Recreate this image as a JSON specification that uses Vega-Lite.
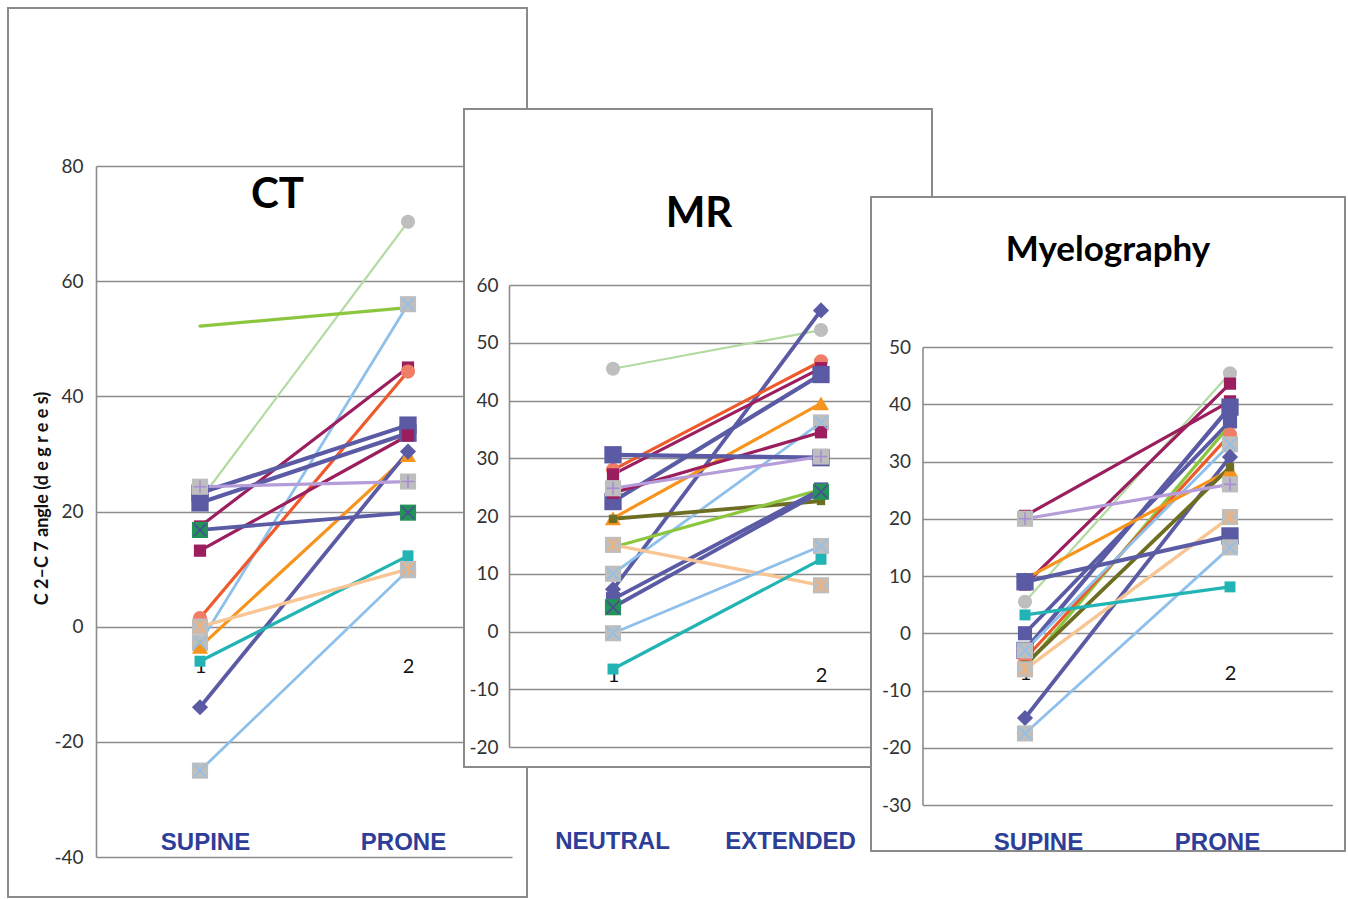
{
  "$schema": "https://vega.github.io/schema/vega-lite/v6.json",
  "background": "white",
  "padding": {"left": 7, "top": 7, "right": 0, "bottom": 0},
  "config": {"view": {"stroke": null}, "legend": {"disable": true}},
  "columns": 3,
  "align": "none",
  "spacing": -65,
  "concat": [
    {
      "width": 519,
      "height": 889,
      "view": {"fill": "white", "stroke": "#8a8a8a", "strokeWidth": 2},
      "title": {"text": "CT", "font": "Liberation Sans Narrow, Lato, sans-serif", "fontSize": 42, "fontWeight": "bold", "color": "#000000", "anchor": "middle", "frame": "group", "offset": -242, "dx": 10, "baseline": "alphabetic"},
      "data": {"values": [
        {"series": "lgreen", "position": 1, "angle": 22}, {"series": "lgreen", "position": 2, "angle": 70.3},
        {"series": "ygreen", "position": 1, "angle": 52.2}, {"series": "ygreen", "position": 2, "angle": 55.4},
        {"series": "lblueA", "position": 1, "angle": -2.8}, {"series": "lblueA", "position": 2, "angle": 56},
        {"series": "magA", "position": 1, "angle": 17.4}, {"series": "magA", "position": 2, "angle": 45},
        {"series": "ored", "position": 1, "angle": 1.5}, {"series": "ored", "position": 2, "angle": 44.3},
        {"series": "slateA", "position": 1, "angle": 23.2}, {"series": "slateA", "position": 2, "angle": 35},
        {"series": "slateB", "position": 1, "angle": 21.5}, {"series": "slateB", "position": 2, "angle": 33.6},
        {"series": "magB", "position": 1, "angle": 13.2}, {"series": "magB", "position": 2, "angle": 33.2},
        {"series": "orange", "position": 1, "angle": -3.5}, {"series": "orange", "position": 2, "angle": 29.8},
        {"series": "slateDia", "position": 1, "angle": -14}, {"series": "slateDia", "position": 2, "angle": 30.4},
        {"series": "slateG", "position": 1, "angle": 16.8}, {"series": "slateG", "position": 2, "angle": 19.8},
        {"series": "lpurple", "position": 1, "angle": 24.3}, {"series": "lpurple", "position": 2, "angle": 25.2},
        {"series": "teal", "position": 1, "angle": -6}, {"series": "teal", "position": 2, "angle": 12.3},
        {"series": "peach", "position": 1, "angle": 0}, {"series": "peach", "position": 2, "angle": 10},
        {"series": "lblueB", "position": 1, "angle": -25}, {"series": "lblueB", "position": 2, "angle": 9.8}
      ]},
      "encoding": {
        "y": {"field": "angle", "type": "quantitative",
          "scale": {"domain": [-40, 80], "range": [849, 158], "nice": false, "zero": false},
          "axis": {"values": [-40, -20, 0, 20, 40, 60, 80], "labelExpr": "'' + datum.value", "offset": -88, "grid": true, "gridColor": "#8c8c8c", "gridWidth": 1.6, "domain": true, "domainColor": "#8c8c8c", "domainWidth": 1.6, "ticks": false, "labelPadding": 13, "labelFont": "Liberation Sans Narrow, Lato, sans-serif", "labelFontSize": 19, "labelColor": "#333333",
            "title": "C 2–C 7 angle (d e g r e e s)", "titleFont": "Liberation Sans Narrow, Lato, sans-serif", "titleFontSize": 18, "titleFontWeight": "bold", "titleColor": "#111111", "titleAngle": 270, "titleX": -54, "titleY": 490, "titleAlign": "center", "titleBaseline": "middle"}}
      },
      "layer": [
        {"mark": {"type": "line", "strokeCap": "round", "strokeJoin": "round"},
          "encoding": {
            "x": {"field": "position", "type": "quantitative", "scale": {"domain": [0.5, 2.5], "range": [88, 504], "nice": false, "zero": false},
              "axis": {"orient": "bottom", "offset": -67, "values": [1, 2], "labelExpr": "datum.value == 1 ? 'SUPINE' : 'PRONE'", "grid": false, "domain": false, "ticks": false, "labelPadding": 0, "labelFont": "Liberation Sans, Arial, sans-serif", "labelFontSize": 24, "labelFontWeight": "bold", "labelColor": "#2D3E99", "labelOffset": {"condition": {"test": "datum.value == 1", "value": 5}, "value": -5}, "labelFlush": false, "labelOverlap": false, "title": null}},
            "color": {"field": "series", "type": "nominal", "legend": null, "scale": {"domain": ["lgreen","ygreen","lblueA","lblueB","magA","magB","ored","slateA","slateB","slateC","slateDia","slateG","orange","lpurple","teal","peach","olive"], "range": ["#B3DBA1","#8CC63F","#8EC0EB","#8EC0EB","#9B1F5E","#9B1F5E","#EE5A2C","#5A5BA4","#5A5BA4","#5A5BA4","#5A5BA4","#5A5BA4","#F7941E","#B59DD9","#22B4B4","#F8C594","#6E6E22"]}},
            "strokeWidth": {"field": "series", "type": "nominal", "legend": null, "scale": {"type": "ordinal", "domain": ["lgreen","ygreen","lblueA","lblueB","magA","magB","ored","slateA","slateB","slateC","slateDia","slateG","orange","lpurple","teal","peach","olive"], "range": [2.2, 3.2, 2.8, 2.8, 3.2, 3.2, 3.2, 4.2, 4.2, 3.8, 3.8, 3.8, 3.2, 3.2, 3.2, 3.4, 3.8]}}
          }},
        {"transform": [{"filter": {"not": {"field": "series", "equal": "ygreen"}}}],
          "mark": {"type": "point", "filled": true, "opacity": 1},
          "encoding": {
            "x": {"field": "position", "type": "quantitative", "scale": {"domain": [0.5, 2.5], "range": [88, 504], "nice": false, "zero": false},
              "axis": {"orient": "bottom", "offset": -241, "values": [1, 2], "format": "d", "grid": false, "domain": false, "ticks": false, "labelPadding": 0, "labelFont": "Liberation Sans Narrow, Lato, sans-serif", "labelFontSize": 20, "labelColor": "#111111", "labelFlush": false, "labelOverlap": false, "title": null}},
            "shape": {"field": "series", "type": "nominal", "legend": null, "scale": {"domain": ["lgreen","lblueA","lblueB","magA","magB","ored","slateA","slateB","slateC","slateDia","slateG","orange","lpurple","teal","peach","olive"], "range": ["circle","square","square","square","square","circle","square","square","square","diamond","square","triangle-up","square","square","square","square"]}},
            "fill": {"field": "series", "type": "nominal", "legend": null, "scale": {"domain": ["lgreen","lblueA","lblueB","magA","magB","ored","slateA","slateB","slateC","slateDia","slateG","orange","lpurple","teal","peach","olive"], "range": ["#BEBEBE","#BEBEBE","#BEBEBE","#9B1F5E","#9B1F5E","#F07D66","#5A5BA4","#5A5BA4","#5A5BA4","#5A5BA4","#23935A","#F7941E","#BEBEBE","#22B4B4","#BEBEBE","#6E6E22"]}},
            "size": {"field": "series", "type": "nominal", "legend": null, "scale": {"type": "ordinal", "domain": ["lgreen","lblueA","lblueB","magA","magB","ored","slateA","slateB","slateC","slateDia","slateG","orange","lpurple","teal","peach","olive"], "range": [200, 260, 260, 150, 150, 200, 300, 300, 200, 260, 260, 260, 260, 120, 260, 70]}}
          }},
        {"transform": [{"filter": {"field": "series", "oneOf": ["lblueA", "lblueB", "slateG"]}}],
          "mark": {"type": "point", "shape": "M-1,-1L1,1M-1,1L1,-1", "filled": false, "size": 160, "strokeWidth": 1.6, "opacity": 1},
          "encoding": {
            "x": {"field": "position", "type": "quantitative", "scale": {"domain": [0.5, 2.5], "range": [88, 504], "nice": false, "zero": false}, "axis": null},
            "stroke": {"field": "series", "type": "nominal", "legend": null, "scale": {"domain": ["lblueA","lblueB","slateG","peach","lpurple"], "range": ["#8EC0EB","#8EC0EB","#4B4C96","#F2B27A","#A98BD6"]}}
          }},
        {"transform": [{"filter": {"field": "series", "equal": "peach"}}],
          "mark": {"type": "point", "shape": "M-1,-1L1,1M-1,1L1,-1M0,-1L0,1", "filled": false, "size": 160, "strokeWidth": 1.6, "opacity": 1},
          "encoding": {
            "x": {"field": "position", "type": "quantitative", "scale": {"domain": [0.5, 2.5], "range": [88, 504], "nice": false, "zero": false}, "axis": null},
            "stroke": {"field": "series", "type": "nominal", "legend": null, "scale": {"domain": ["lblueA","lblueB","slateG","peach","lpurple"], "range": ["#8EC0EB","#8EC0EB","#4B4C96","#F2B27A","#A98BD6"]}}
          }},
        {"transform": [{"filter": {"field": "series", "equal": "lpurple"}}],
          "mark": {"type": "point", "shape": "M-1,0L1,0M0,-1L0,1", "filled": false, "size": 160, "strokeWidth": 1.6, "opacity": 1},
          "encoding": {
            "x": {"field": "position", "type": "quantitative", "scale": {"domain": [0.5, 2.5], "range": [88, 504], "nice": false, "zero": false}, "axis": null},
            "stroke": {"field": "series", "type": "nominal", "legend": null, "scale": {"domain": ["lblueA","lblueB","slateG","peach","lpurple"], "range": ["#8EC0EB","#8EC0EB","#4B4C96","#F2B27A","#A98BD6"]}}
          }}
      ],
      "resolve": {"axis": {"x": "independent"}}
    },
    {
      "spacing": 0,
      "vconcat": [
        {"width": 471, "height": 100, "data": {"values": []}, "mark": "point"},
        {
          "width": 468,
          "height": 658,
          "view": {"fill": "white", "stroke": "#8a8a8a", "strokeWidth": 2},
          "title": {"text": "MR", "font": "Liberation Sans Narrow, Lato, sans-serif", "fontSize": 42, "fontWeight": "bold", "color": "#000000", "anchor": "middle", "frame": "group", "offset": -160, "dx": 1, "baseline": "alphabetic"},
          "data": {"values": [
            {"series": "lgreen", "position": 1, "angle": 45.5}, {"series": "lgreen", "position": 2, "angle": 52.2},
            {"series": "slateDia", "position": 1, "angle": 7.3}, {"series": "slateDia", "position": 2, "angle": 55.6},
            {"series": "ored", "position": 1, "angle": 28}, {"series": "ored", "position": 2, "angle": 46.8},
            {"series": "magA", "position": 1, "angle": 27.2}, {"series": "magA", "position": 2, "angle": 45.6},
            {"series": "slateA", "position": 1, "angle": 22.5}, {"series": "slateA", "position": 2, "angle": 44.5},
            {"series": "orange", "position": 1, "angle": 19.6}, {"series": "orange", "position": 2, "angle": 39.5},
            {"series": "lblueA", "position": 1, "angle": 10}, {"series": "lblueA", "position": 2, "angle": 36.2},
            {"series": "magB", "position": 1, "angle": 24}, {"series": "magB", "position": 2, "angle": 34.5},
            {"series": "slateB", "position": 1, "angle": 30.6}, {"series": "slateB", "position": 2, "angle": 30.1},
            {"series": "lpurple", "position": 1, "angle": 24.8}, {"series": "lpurple", "position": 2, "angle": 30.3},
            {"series": "olive", "position": 1, "angle": 19.5}, {"series": "olive", "position": 2, "angle": 22.6},
            {"series": "ygreen", "position": 1, "angle": 14.6}, {"series": "ygreen", "position": 2, "angle": 24.6},
            {"series": "slateC", "position": 1, "angle": 5.6}, {"series": "slateC", "position": 2, "angle": 24.6},
            {"series": "slateG", "position": 1, "angle": 4.2}, {"series": "slateG", "position": 2, "angle": 24.2},
            {"series": "peach", "position": 1, "angle": 15}, {"series": "peach", "position": 2, "angle": 8},
            {"series": "lblueB", "position": 1, "angle": -0.3}, {"series": "lblueB", "position": 2, "angle": 14.8},
            {"series": "teal", "position": 1, "angle": -6.5}, {"series": "teal", "position": 2, "angle": 12.5}
          ]},
          "encoding": {
            "y": {"field": "angle", "type": "quantitative",
              "scale": {"domain": [-20, 60], "range": [638, 176], "nice": false, "zero": false},
              "axis": {"values": [-20, -10, 0, 10, 20, 30, 40, 50, 60], "labelExpr": "'' + datum.value", "offset": -45, "grid": true, "gridColor": "#8c8c8c", "gridWidth": 1.6, "domain": true, "domainColor": "#8c8c8c", "domainWidth": 1.6, "ticks": false, "labelPadding": 11, "labelFont": "Liberation Sans Narrow, Lato, sans-serif", "labelFontSize": 19, "labelColor": "#333333", "title": null}}
          },
          "layer": [
            {"mark": {"type": "line", "strokeCap": "round", "strokeJoin": "round"},
              "encoding": {
                "x": {"field": "position", "type": "quantitative", "scale": {"domain": [0.5, 2.5], "range": [45, 461], "nice": false, "zero": false},
                  "axis": {"orient": "bottom", "offset": 62, "values": [1, 2], "labelExpr": "datum.value == 1 ? 'NEUTRAL' : 'EXTENDED'", "grid": false, "domain": false, "ticks": false, "labelPadding": 0, "labelFont": "Liberation Sans, Arial, sans-serif", "labelFontSize": 24, "labelFontWeight": "bold", "labelColor": "#2D3E99", "labelOffset": {"condition": {"test": "datum.value == 1", "value": -1}, "value": -31}, "labelFlush": false, "labelOverlap": false, "title": null}},
                "color": {"field": "series", "type": "nominal", "legend": null, "scale": {"domain": ["lgreen","ygreen","lblueA","lblueB","magA","magB","ored","slateA","slateB","slateC","slateDia","slateG","orange","lpurple","teal","peach","olive"], "range": ["#B3DBA1","#8CC63F","#8EC0EB","#8EC0EB","#9B1F5E","#9B1F5E","#EE5A2C","#5A5BA4","#5A5BA4","#5A5BA4","#5A5BA4","#5A5BA4","#F7941E","#B59DD9","#22B4B4","#F8C594","#6E6E22"]}},
                "strokeWidth": {"field": "series", "type": "nominal", "legend": null, "scale": {"type": "ordinal", "domain": ["lgreen","ygreen","lblueA","lblueB","magA","magB","ored","slateA","slateB","slateC","slateDia","slateG","orange","lpurple","teal","peach","olive"], "range": [2.2, 3.2, 2.8, 2.8, 3.2, 3.2, 3.2, 4.2, 4.2, 3.8, 3.8, 3.8, 3.2, 3.2, 3.2, 3.4, 3.8]}}
              }},
            {"transform": [{"filter": {"not": {"field": "series", "equal": "ygreen"}}}],
              "mark": {"type": "point", "filled": true, "opacity": 1},
              "encoding": {
                "x": {"field": "position", "type": "quantitative", "scale": {"domain": [0.5, 2.5], "range": [45, 461], "nice": false, "zero": false},
                  "axis": {"orient": "bottom", "offset": -102, "values": [1, 2], "format": "d", "grid": false, "domain": false, "ticks": false, "labelPadding": 0, "labelFont": "Liberation Sans Narrow, Lato, sans-serif", "labelFontSize": 20, "labelColor": "#111111", "labelFlush": false, "labelOverlap": false, "title": null}},
                "shape": {"field": "series", "type": "nominal", "legend": null, "scale": {"domain": ["lgreen","lblueA","lblueB","magA","magB","ored","slateA","slateB","slateC","slateDia","slateG","orange","lpurple","teal","peach","olive"], "range": ["circle","square","square","square","square","circle","square","square","square","diamond","square","triangle-up","square","square","square","square"]}},
                "fill": {"field": "series", "type": "nominal", "legend": null, "scale": {"domain": ["lgreen","lblueA","lblueB","magA","magB","ored","slateA","slateB","slateC","slateDia","slateG","orange","lpurple","teal","peach","olive"], "range": ["#BEBEBE","#BEBEBE","#BEBEBE","#9B1F5E","#9B1F5E","#F07D66","#5A5BA4","#5A5BA4","#5A5BA4","#5A5BA4","#23935A","#F7941E","#BEBEBE","#22B4B4","#BEBEBE","#6E6E22"]}},
                "size": {"field": "series", "type": "nominal", "legend": null, "scale": {"type": "ordinal", "domain": ["lgreen","lblueA","lblueB","magA","magB","ored","slateA","slateB","slateC","slateDia","slateG","orange","lpurple","teal","peach","olive"], "range": [200, 260, 260, 150, 150, 200, 300, 300, 200, 260, 260, 260, 260, 120, 260, 70]}}
              }},
            {"transform": [{"filter": {"field": "series", "oneOf": ["lblueA", "lblueB", "slateG"]}}],
              "mark": {"type": "point", "shape": "M-1,-1L1,1M-1,1L1,-1", "filled": false, "size": 160, "strokeWidth": 1.6, "opacity": 1},
              "encoding": {
                "x": {"field": "position", "type": "quantitative", "scale": {"domain": [0.5, 2.5], "range": [45, 461], "nice": false, "zero": false}, "axis": null},
                "stroke": {"field": "series", "type": "nominal", "legend": null, "scale": {"domain": ["lblueA","lblueB","slateG","peach","lpurple"], "range": ["#8EC0EB","#8EC0EB","#4B4C96","#F2B27A","#A98BD6"]}}
              }},
            {"transform": [{"filter": {"field": "series", "equal": "peach"}}],
              "mark": {"type": "point", "shape": "M-1,-1L1,1M-1,1L1,-1M0,-1L0,1", "filled": false, "size": 160, "strokeWidth": 1.6, "opacity": 1},
              "encoding": {
                "x": {"field": "position", "type": "quantitative", "scale": {"domain": [0.5, 2.5], "range": [45, 461], "nice": false, "zero": false}, "axis": null},
                "stroke": {"field": "series", "type": "nominal", "legend": null, "scale": {"domain": ["lblueA","lblueB","slateG","peach","lpurple"], "range": ["#8EC0EB","#8EC0EB","#4B4C96","#F2B27A","#A98BD6"]}}
              }},
            {"transform": [{"filter": {"field": "series", "equal": "lpurple"}}],
              "mark": {"type": "point", "shape": "M-1,0L1,0M0,-1L0,1", "filled": false, "size": 160, "strokeWidth": 1.6, "opacity": 1},
              "encoding": {
                "x": {"field": "position", "type": "quantitative", "scale": {"domain": [0.5, 2.5], "range": [45, 461], "nice": false, "zero": false}, "axis": null},
                "stroke": {"field": "series", "type": "nominal", "legend": null, "scale": {"domain": ["lblueA","lblueB","slateG","peach","lpurple"], "range": ["#8EC0EB","#8EC0EB","#4B4C96","#F2B27A","#A98BD6"]}}
              }}
          ],
          "resolve": {"axis": {"x": "independent"}}
        }
      ]
    },
    {
      "spacing": 0,
      "vconcat": [
        {"width": 474, "height": 188, "data": {"values": []}, "mark": "point"},
        {
          "width": 474,
          "height": 654,
          "view": {"fill": "white", "stroke": "#8a8a8a", "strokeWidth": 2},
          "title": {"text": "Myelography", "font": "Liberation Sans Narrow, Lato, sans-serif", "fontSize": 35, "fontWeight": "bold", "color": "#000000", "anchor": "middle", "frame": "group", "offset": -99, "dx": 0, "baseline": "alphabetic"},
          "data": {"values": [
            {"series": "lgreen", "position": 1, "angle": 5.5}, {"series": "lgreen", "position": 2, "angle": 45.4},
            {"series": "magB", "position": 1, "angle": 8.5}, {"series": "magB", "position": 2, "angle": 43.6},
            {"series": "magA", "position": 1, "angle": 20.5}, {"series": "magA", "position": 2, "angle": 40.5},
            {"series": "slateA", "position": 1, "angle": -3}, {"series": "slateA", "position": 2, "angle": 39.5},
            {"series": "slateC", "position": 1, "angle": 0}, {"series": "slateC", "position": 2, "angle": 37},
            {"series": "ygreen", "position": 1, "angle": -6}, {"series": "ygreen", "position": 2, "angle": 36.4},
            {"series": "ored", "position": 1, "angle": -4.5}, {"series": "ored", "position": 2, "angle": 34.7},
            {"series": "lblueA", "position": 1, "angle": -3}, {"series": "lblueA", "position": 2, "angle": 33},
            {"series": "slateDia", "position": 1, "angle": -14.8}, {"series": "slateDia", "position": 2, "angle": 30.8},
            {"series": "orange", "position": 1, "angle": 9.5}, {"series": "orange", "position": 2, "angle": 28.5},
            {"series": "olive", "position": 1, "angle": -5.5}, {"series": "olive", "position": 2, "angle": 29},
            {"series": "lpurple", "position": 1, "angle": 20}, {"series": "lpurple", "position": 2, "angle": 26},
            {"series": "peach", "position": 1, "angle": -6.3}, {"series": "peach", "position": 2, "angle": 20.3},
            {"series": "slateB", "position": 1, "angle": 9}, {"series": "slateB", "position": 2, "angle": 17},
            {"series": "lblueB", "position": 1, "angle": -17.5}, {"series": "lblueB", "position": 2, "angle": 15},
            {"series": "teal", "position": 1, "angle": 3.2}, {"series": "teal", "position": 2, "angle": 8.1}
          ]},
          "encoding": {
            "y": {"field": "angle", "type": "quantitative",
              "scale": {"domain": [-30, 50], "range": [608, 150], "nice": false, "zero": false},
              "axis": {"values": [-30, -20, -10, 0, 10, 20, 30, 40, 50], "labelExpr": "'' + datum.value", "offset": -51.5, "grid": true, "gridColor": "#8c8c8c", "gridWidth": 1.6, "domain": true, "domainColor": "#8c8c8c", "domainWidth": 1.6, "ticks": false, "labelPadding": 12, "labelFont": "Liberation Sans Narrow, Lato, sans-serif", "labelFontSize": 19, "labelColor": "#333333", "title": null}}
          },
          "layer": [
            {"mark": {"type": "line", "strokeCap": "round", "strokeJoin": "round"},
              "encoding": {
                "x": {"field": "position", "type": "quantitative", "scale": {"domain": [0.5, 2.5], "range": [51.5, 461.5], "nice": false, "zero": false},
                  "axis": {"orient": "bottom", "offset": -21, "values": [1, 2], "labelExpr": "datum.value == 1 ? 'SUPINE' : 'PRONE'", "grid": false, "domain": false, "ticks": false, "labelPadding": 0, "labelFont": "Liberation Sans, Arial, sans-serif", "labelFontSize": 24, "labelFontWeight": "bold", "labelColor": "#2D3E99", "labelOffset": {"condition": {"test": "datum.value == 1", "value": 13}, "value": -13}, "labelFlush": false, "labelOverlap": false, "title": null}},
                "color": {"field": "series", "type": "nominal", "legend": null, "scale": {"domain": ["lgreen","ygreen","lblueA","lblueB","magA","magB","ored","slateA","slateB","slateC","slateDia","slateG","orange","lpurple","teal","peach","olive"], "range": ["#B3DBA1","#8CC63F","#8EC0EB","#8EC0EB","#9B1F5E","#9B1F5E","#EE5A2C","#5A5BA4","#5A5BA4","#5A5BA4","#5A5BA4","#5A5BA4","#F7941E","#B59DD9","#22B4B4","#F8C594","#6E6E22"]}},
                "strokeWidth": {"field": "series", "type": "nominal", "legend": null, "scale": {"type": "ordinal", "domain": ["lgreen","ygreen","lblueA","lblueB","magA","magB","ored","slateA","slateB","slateC","slateDia","slateG","orange","lpurple","teal","peach","olive"], "range": [2.2, 3.2, 2.8, 2.8, 3.2, 3.2, 3.2, 4.2, 4.2, 3.8, 3.8, 3.8, 3.2, 3.2, 3.2, 3.4, 3.8]}}
              }},
            {"transform": [{"filter": {"not": {"field": "series", "equal": "ygreen"}}}],
              "mark": {"type": "point", "filled": true, "opacity": 1},
              "encoding": {
                "x": {"field": "position", "type": "quantitative", "scale": {"domain": [0.5, 2.5], "range": [51.5, 461.5], "nice": false, "zero": false},
                  "axis": {"orient": "bottom", "offset": -188, "values": [1, 2], "format": "d", "grid": false, "domain": false, "ticks": false, "labelPadding": 0, "labelFont": "Liberation Sans Narrow, Lato, sans-serif", "labelFontSize": 20, "labelColor": "#111111", "labelFlush": false, "labelOverlap": false, "title": null}},
                "shape": {"field": "series", "type": "nominal", "legend": null, "scale": {"domain": ["lgreen","lblueA","lblueB","magA","magB","ored","slateA","slateB","slateC","slateDia","slateG","orange","lpurple","teal","peach","olive"], "range": ["circle","square","square","square","square","circle","square","square","square","diamond","square","triangle-up","square","square","square","square"]}},
                "fill": {"field": "series", "type": "nominal", "legend": null, "scale": {"domain": ["lgreen","lblueA","lblueB","magA","magB","ored","slateA","slateB","slateC","slateDia","slateG","orange","lpurple","teal","peach","olive"], "range": ["#BEBEBE","#BEBEBE","#BEBEBE","#9B1F5E","#9B1F5E","#F07D66","#5A5BA4","#5A5BA4","#5A5BA4","#5A5BA4","#23935A","#F7941E","#BEBEBE","#22B4B4","#BEBEBE","#6E6E22"]}},
                "size": {"field": "series", "type": "nominal", "legend": null, "scale": {"type": "ordinal", "domain": ["lgreen","lblueA","lblueB","magA","magB","ored","slateA","slateB","slateC","slateDia","slateG","orange","lpurple","teal","peach","olive"], "range": [200, 260, 260, 150, 150, 200, 300, 300, 200, 260, 260, 260, 260, 120, 260, 70]}}
              }},
            {"transform": [{"filter": {"field": "series", "oneOf": ["lblueA", "lblueB", "slateG"]}}],
              "mark": {"type": "point", "shape": "M-1,-1L1,1M-1,1L1,-1", "filled": false, "size": 160, "strokeWidth": 1.6, "opacity": 1},
              "encoding": {
                "x": {"field": "position", "type": "quantitative", "scale": {"domain": [0.5, 2.5], "range": [51.5, 461.5], "nice": false, "zero": false}, "axis": null},
                "stroke": {"field": "series", "type": "nominal", "legend": null, "scale": {"domain": ["lblueA","lblueB","slateG","peach","lpurple"], "range": ["#8EC0EB","#8EC0EB","#4B4C96","#F2B27A","#A98BD6"]}}
              }},
            {"transform": [{"filter": {"field": "series", "equal": "peach"}}],
              "mark": {"type": "point", "shape": "M-1,-1L1,1M-1,1L1,-1M0,-1L0,1", "filled": false, "size": 160, "strokeWidth": 1.6, "opacity": 1},
              "encoding": {
                "x": {"field": "position", "type": "quantitative", "scale": {"domain": [0.5, 2.5], "range": [51.5, 461.5], "nice": false, "zero": false}, "axis": null},
                "stroke": {"field": "series", "type": "nominal", "legend": null, "scale": {"domain": ["lblueA","lblueB","slateG","peach","lpurple"], "range": ["#8EC0EB","#8EC0EB","#4B4C96","#F2B27A","#A98BD6"]}}
              }},
            {"transform": [{"filter": {"field": "series", "equal": "lpurple"}}],
              "mark": {"type": "point", "shape": "M-1,0L1,0M0,-1L0,1", "filled": false, "size": 160, "strokeWidth": 1.6, "opacity": 1},
              "encoding": {
                "x": {"field": "position", "type": "quantitative", "scale": {"domain": [0.5, 2.5], "range": [51.5, 461.5], "nice": false, "zero": false}, "axis": null},
                "stroke": {"field": "series", "type": "nominal", "legend": null, "scale": {"domain": ["lblueA","lblueB","slateG","peach","lpurple"], "range": ["#8EC0EB","#8EC0EB","#4B4C96","#F2B27A","#A98BD6"]}}
              }}
          ],
          "resolve": {"axis": {"x": "independent"}}
        }
      ]
    }
  ]
}
